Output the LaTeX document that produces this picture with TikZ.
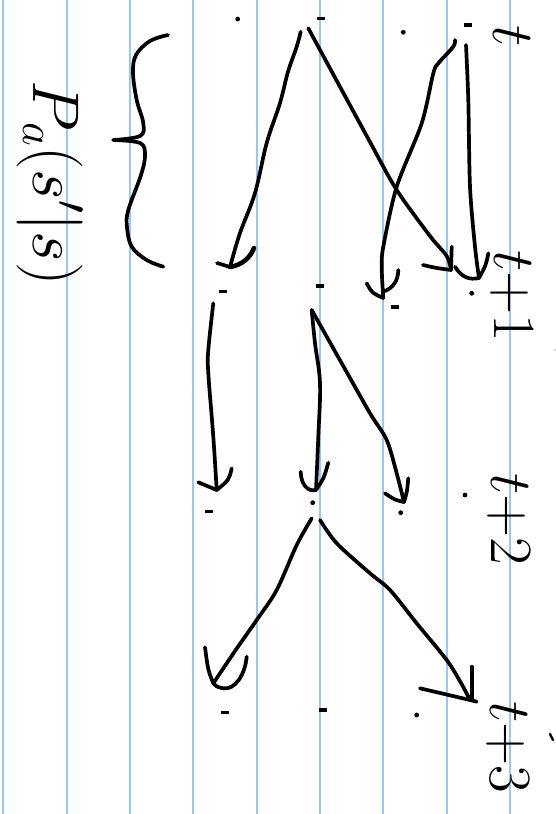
\RequirePackage{fix-cm}
\documentclass[tikz,border=0pt]{standalone}
\definecolor{rulecol}{RGB}{150,198,252}
\begin{document}
\begin{tikzpicture}[x=1pt,y=-1pt,
  pen/.style={line width=3.7pt, line cap=round, line join=round},
  ruling/.style={draw=rulecol, line width=2pt},
  sdash/.style={rectangle, fill=black, inner sep=0pt, minimum width=8pt, minimum height=3.2pt},
  sdot/.style={circle, fill=black, inner sep=0pt, minimum size=4.8pt},
  tlbl/.style={rotate=-90, inner sep=0pt, font=\fontsize{60}{64}\selectfont},
  plbl/.style={rotate=-90, inner sep=0pt, font=\fontsize{66}{72}\selectfont}]
\useasboundingbox (0,0) rectangle (556,814);
\fill[white] (0,0) rectangle (556,814);

% ruled notebook paper
\foreach \k in {0,...,8}
  \draw[ruling] ({3.3+63.33*\k},0) -- ({3.3+63.33*\k},814);

% states at each time step
\node[sdot]  (s00) at (237.7,19) {};
\node[sdash] (s01) at (321,18.3) {};
\node[sdot]  (s02) at (403.3,32.3) {};
\node[sdash] (s03) at (468.3,25) {};

\node[sdash] (s10) at (223.3,291.7) {};
\node[sdash] (s11) at (320,286) {};
\node[sdash] (s12) at (395,307) {};
\node[sdot]  (s13) at (471.7,293.3) {};

\node[sdash] (s20) at (209.3,511.7) {};
\node[sdot]  (s21) at (312.7,502.7) {};
\node[sdot]  (s22) at (400.7,512.7) {};
\node[sdot]  (s23) at (465,495) {};

\node[sdash] (s30) at (225,712.7) {};
\node[sdash] (s31) at (322.7,710) {};
\node[sdot]  (s32) at (416.7,715) {};

% time labels
\node[tlbl] (tl0) at (512,36)  {$t$};
\node[tlbl] (tl1) at (512,296) {$t{+}1$};
\node[tlbl] (tl2) at (509,519) {$t{+}2$};
\node[tlbl] (tl3) at (508,747) {$t{+}3$};

% transition probability label and brace
\node[plbl] (pl) at (50,183) {$P_a(s'|s)$};
\draw[pen] plot[smooth, tension=0.6] coordinates {(168,35) (150,41) (136,55) (133,73) (136.7,100) (143.3,123.3) (140,136) (113.3,140)};
\draw[pen] plot[smooth, tension=0.6] coordinates {(113.3,140) (140,143) (145,155) (141,175) (128.3,210) (127,227) (131.7,246.7) (146.7,260) (163.3,266.7)};

% transitions t -> t+1
\coordinate (a1s) at (300.7,31.7);
\coordinate (a1t) at (230,267);
\draw[pen] plot[smooth, tension=0.6] coordinates {(a1s) (296.7,46.7) (288,71.7) (280,103) (266.7,143) (255,193) (240,233) (a1t)};
\draw[pen] (217,263) -- (a1t);
\draw[pen, line width=4.6pt] (254,248) .. controls (250,258) and (242,265) .. (a1t);

\coordinate (a2s) at (308.3,28.3);
\coordinate (a2t) at (451,270);
\draw[pen] plot[smooth, tension=0.5] coordinates {(a2s) (370,142) (396.7,190) (430,236) (446.7,256) (a2t)};
\draw[pen] (423,265) .. controls (436,268) .. (a2t);
\draw[pen] (451.7,246.7) -- (a2t);

\coordinate (a3s) at (466,45);
\coordinate (a3t) at (479,278);
\draw[pen] plot[smooth, tension=0.5] coordinates {(a3s) (468.3,100) (470,186.7) (475,246.7) (a3t)};
\draw[pen] (455,266.7) .. controls (462,278) and (470,280) .. (a3t);
\draw[pen] (488.3,253.3) .. controls (486,265) .. (a3t);

\coordinate (a4s) at (455,40);
\coordinate (a4t) at (383.3,298);
\draw[pen] plot[smooth, tension=0.5] coordinates {(a4s) (453.3,46.7) (438.3,63.3) (433.3,73.3) (421.7,123.3) (396.7,186.7) (383.3,246.7) (381.7,268.3) (a4t)};
\draw[pen] (366.7,283.3) .. controls (372,293) .. (a4t);
\draw[pen] (398.3,270) .. controls (398,282) and (392,288) .. (385,291);

% transitions t+1 -> t+2
\coordinate (b1s) at (213.3,303.3);
\coordinate (b1t) at (216.7,490);
\draw[pen] plot[smooth, tension=0.6] coordinates {(b1s) (208.3,350) (208.3,373) (213.3,436.7) (b1t)};
\draw[pen] (198.3,482.3) -- (b1t);
\draw[pen] (231.7,468.3) .. controls (229,480) .. (b1t);

\coordinate (b0) at (311.7,310);
\coordinate (b2t) at (316,490);
\draw[pen] plot[smooth, tension=0.6] coordinates {(b0) (315,343.3) (320,383.3) (318.3,436.7) (b2t)};
\draw[pen] (300.7,471.7) .. controls (301,485) and (308,492) .. (b2t);
\draw[pen] (328.3,462.7) .. controls (324,478) .. (b2t);

\coordinate (b3t) at (404,502);
\draw[pen] plot[smooth, tension=0.5] coordinates {(b0) (341,362) (370,413.3) (386.7,440) (396.7,473.3) (b3t)};
\draw[pen] (385,493.3) .. controls (395,500) .. (b3t);
\draw[pen] (408.3,478.3) .. controls (407,492) .. (b3t);

% transitions t+2 -> t+3
\coordinate (c1s) at (311.7,518.3);
\coordinate (c1t) at (213.3,683.3);
\draw[pen] plot[smooth, tension=0.5] coordinates {(c1s) (296.7,545) (276.7,590) (256.7,620) (235,651) (c1t)};
\draw[pen] (205,647.3) .. controls (208,670) .. (c1t);
\draw[pen] (246.7,656.7) .. controls (245,675) and (235,690) .. (223.3,688.3) .. controls (217,687) .. (c1t);

\coordinate (c2s) at (320,520);
\coordinate (c2t) at (470,700);
\draw[pen] plot[smooth, tension=0.5] coordinates {(c2s) (336.7,543.3) (370,573.3) (390,590) (416.7,623.3) (446.7,660) (461,683) (c2t)};
\draw[pen] (420,688.3) -- (c2t) -- (476.7,701.7);
\draw[pen] (471.7,666.7) -- (471.7,700);

% stray pen marks
\draw[pen, line width=2.4pt] (550,734) -- (553,740);
\fill[gray!50] (555,350) circle (1.2);
\end{tikzpicture}
\end{document}
